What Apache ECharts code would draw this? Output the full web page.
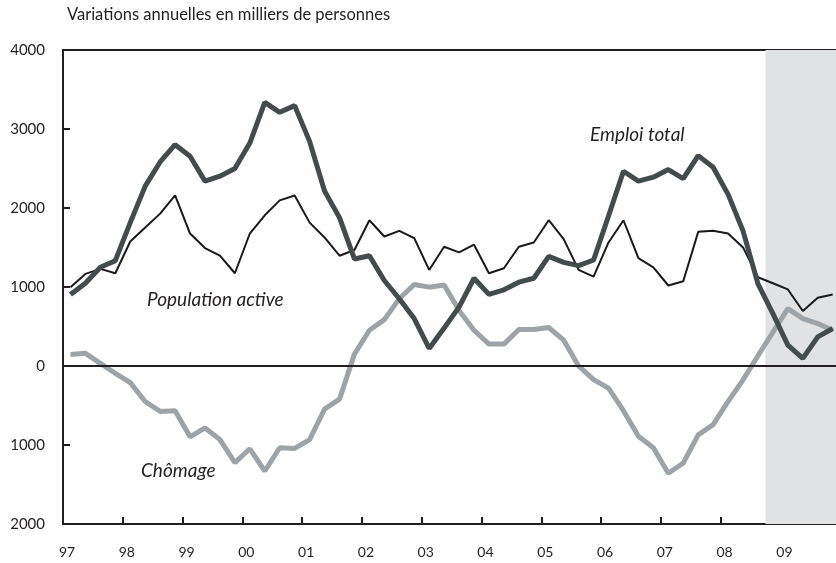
<!DOCTYPE html>
<html>
<head>
<meta charset="utf-8">
<script src="https://cdn.jsdelivr.net/npm/echarts@6/dist/echarts.min.js"></script>
<style>
  html, body { margin: 0; padding: 0; background: #fff; }
  #chart { width: 836px; height: 563px; }
</style>
</head>
<body>
<div id="chart"></div>
<script>
// Quarterly data, 1997 T1 -> 2009 T4 (variations annuelles, milliers)
const startYear = 1997
const endYear = 2009.93 // the frame is cut just before 2010
const yearTicks = ['97', '98', '99', '00', '01', '02', '03', '04', '05', '06', '07', '08', '09']

const emploiTotal = [906, 1048, 1249, 1333, 1815, 2277, 2583, 2801, 2654, 2340, 2403, 2499,
  2822, 3337, 3211, 3296, 2843, 2214, 1878, 1355, 1396, 1082, 851, 600,
  222, 480, 746, 1111, 906, 964, 1061, 1111, 1388, 1312, 1270, 1342,
  1899, 2465, 2340, 2390, 2487, 2373, 2663, 2516, 2172, 1711, 1040, 663,
  264, 97, 369, 474]

const populationActive = [998, 1166, 1229, 1174, 1576, 1752, 1929, 2159, 1677, 1493, 1396, 1174,
  1677, 1908, 2097, 2159, 1815, 1627, 1396, 1468, 1845, 1639, 1711, 1619,
  1216, 1509, 1438, 1535, 1174, 1237, 1509, 1564, 1845, 1606, 1216, 1132,
  1564, 1845, 1365, 1249, 1019, 1073, 1698, 1711, 1677, 1501, 1123, 1048,
  969, 696, 864, 906]

const chomage = [147, 160, 34, -92, -210, -449, -575, -566, -897, -784, -931, -1224,
  -1048, -1329, -1035, -1044, -931, -545, -419, 150, 453, 587, 851, 1031,
  998, 1025, 704, 453, 277, 277, 462, 462, 487, 327, 0, -172,
  -281, -565, -890, -1035, -1358, -1228, -872, -742, -449, -176, 130, 430,
  726, 600, 537, 453]

// shaded period (forecast)
const shadeStart = 2008.75

const font = 'Lato, "Open Sans", sans-serif'
const ink = '#231f20'

// quarter index -> position on the year axis (middle of the quarter)
function toPoints(values) {
  return values.map((v, i) => [startYear + (i + 0.5) / 4, v])
}

const chart = echarts.init(document.getElementById('chart'))

const axisLineStyle = { color: ink, width: 2 }

chart.setOption({
  animation: false,
  backgroundColor: '#fff',
  grid: {
    left: 63,
    right: 0,
    top: 50,
    bottom: 39,
    containLabel: false,
    outerBoundsMode: 'none'
  },
  xAxis: [
    {
      type: 'value',
      min: startYear,
      max: endYear,
      interval: 1,
      axisLine: { show: true, onZero: false, lineStyle: axisLineStyle },
      axisTick: { show: true, inside: true, length: 7, lineStyle: axisLineStyle },
      splitLine: { show: false },
      axisLabel: {
        color: ink,
        fontFamily: font,
        fontSize: 14,
        margin: 21,
        padding: [0, 0, 0, 8],
        formatter: function (v) {
          const i = Math.round(v - startYear)
          return yearTicks[i] !== undefined && Math.abs(v - startYear - i) < 1e-6 ? yearTicks[i] : ''
        }
      }
    },
    {
      // top frame line
      type: 'value',
      position: 'top',
      min: startYear,
      max: endYear,
      axisLine: { show: true, onZero: false, lineStyle: axisLineStyle },
      axisTick: { show: false },
      axisLabel: { show: false },
      splitLine: { show: false }
    }
  ],
  yAxis: {
    type: 'value',
    min: -2000,
    max: 4000,
    interval: 1000,
    axisLine: { show: true, lineStyle: axisLineStyle },
    axisTick: { show: true, inside: true, length: 7, lineStyle: axisLineStyle },
    splitLine: { show: false },
    axisLabel: {
      color: ink,
      fontFamily: font,
      fontSize: 15,
      margin: 18,
      formatter: function (v) { return String(Math.abs(v)) }
    }
  },
  series: [
    {
      // background: shaded period + zero line
      name: 'fond',
      type: 'line',
      data: [],
      z: 1,
      silent: true,
      markArea: {
        silent: true,
        itemStyle: { color: '#e1e2e4' },
        data: [[{ xAxis: shadeStart, yAxis: -2000 }, { xAxis: endYear, yAxis: 4000 }]]
      },
      markLine: {
        silent: true,
        symbol: 'none',
        label: { show: false },
        lineStyle: { color: ink, width: 2, type: 'solid' },
        data: [{ yAxis: 0 }]
      }
    },
    {
      name: 'Chômage',
      type: 'line',
      data: toPoints(chomage),
      z: 3,
      showSymbol: false,
      lineStyle: { color: '#9ea3a8', width: 5 }
    },
    {
      name: 'Population active',
      type: 'line',
      data: toPoints(populationActive),
      z: 3,
      showSymbol: false,
      lineStyle: { color: '#1a1a1a', width: 2 }
    },
    {
      name: 'Emploi total',
      type: 'line',
      data: toPoints(emploiTotal),
      z: 4,
      showSymbol: false,
      lineStyle: { color: '#434b4c', width: 5 }
    }
  ],
  graphic: [
    {
      type: 'text', left: 67, top: 6,
      style: { text: 'Variations annuelles en milliers de personnes', fill: ink, font: '16.5px ' + font }
    },
    {
      type: 'text', x: 590, y: 135,
      style: { text: 'Emploi total', fill: ink, font: 'italic 19px ' + font, verticalAlign: 'middle' }
    },
    {
      type: 'text', x: 147, y: 300,
      style: { text: 'Population active', fill: ink, font: 'italic 19px ' + font, verticalAlign: 'middle' }
    },
    {
      type: 'text', x: 141, y: 471,
      style: { text: 'Chômage', fill: ink, font: 'italic 19px ' + font, verticalAlign: 'middle' }
    }
  ]
})
</script>
</body>
</html>
